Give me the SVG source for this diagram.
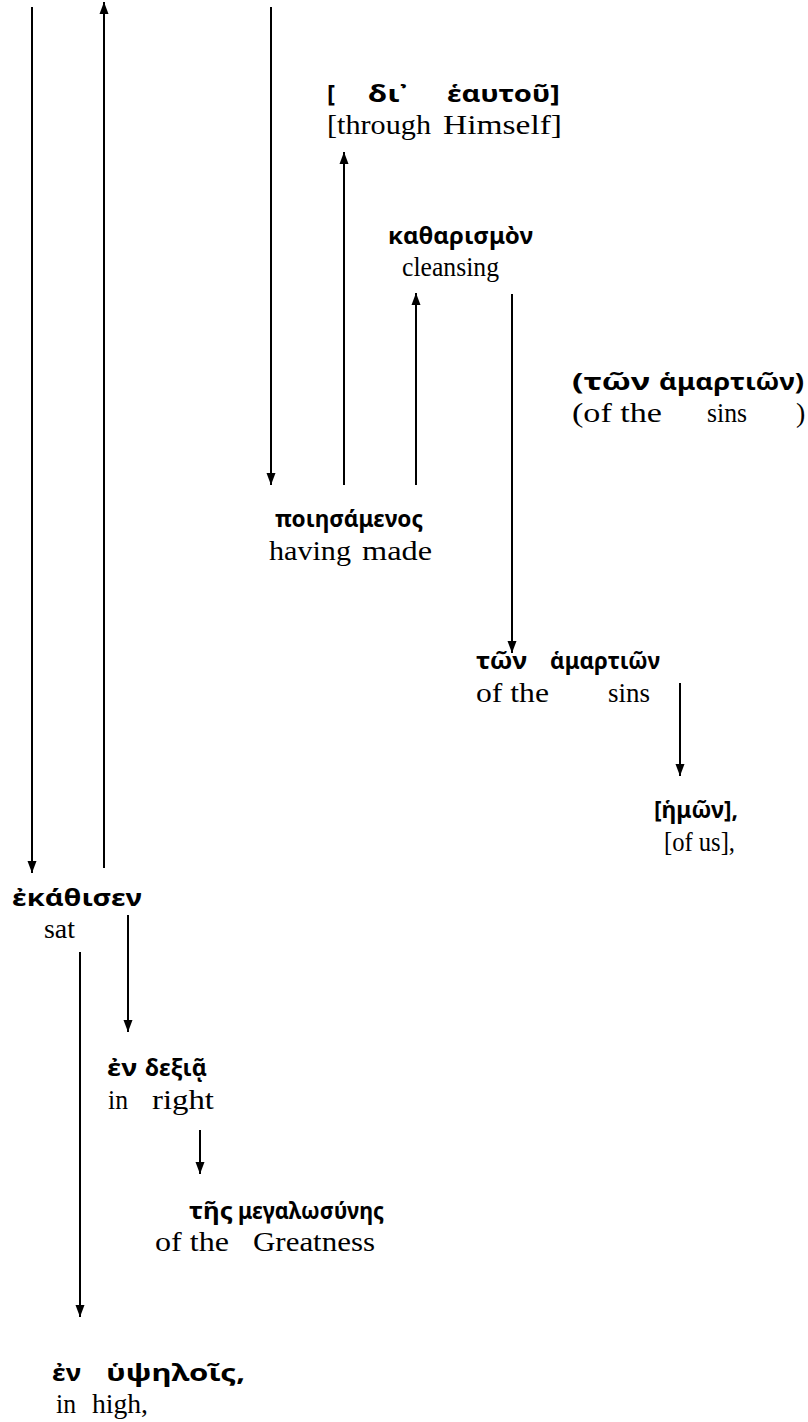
<svg xmlns="http://www.w3.org/2000/svg" width="808" height="1422" viewBox="0 0 808 1422">
<style>
.g{font-family:"Noto Sans","DejaVu Sans",sans-serif;font-weight:bold;font-size:24px;fill:#000}
.e{font-family:"Liberation Serif","Times New Roman",serif;font-size:28px;fill:#000}
.c line{stroke:#000;stroke-width:2}
</style>
<defs>
<marker id="a" viewBox="0 0 12 10" refX="12" refY="5" markerWidth="12" markerHeight="10" markerUnits="userSpaceOnUse" orient="auto">
<path d="M0,0.5 L12,5 L0,9.5 z" fill="#000"/>
</marker>
</defs>
<g class="c" id="connectors">
<line x1="32" y1="7" x2="32" y2="873" marker-end="url(#a)"/>
<line x1="104" y1="868" x2="104" y2="2" marker-end="url(#a)"/>
<line x1="271" y1="7" x2="271" y2="485" marker-end="url(#a)"/>
<line x1="344" y1="485" x2="344" y2="152" marker-end="url(#a)"/>
<line x1="416" y1="485" x2="416" y2="293" marker-end="url(#a)"/>
<line x1="512" y1="294" x2="512" y2="653" marker-end="url(#a)"/>
<line x1="680" y1="683" x2="680" y2="776" marker-end="url(#a)"/>
<line x1="128" y1="915" x2="128" y2="1032" marker-end="url(#a)"/>
<line x1="80" y1="952" x2="80" y2="1317" marker-end="url(#a)"/>
<line x1="200" y1="1130" x2="200" y2="1174" marker-end="url(#a)"/>
</g>
<g id="n1">
<text class="g" x="327" y="102">[</text>
<text class="g" x="368" y="102" textLength="40" lengthAdjust="spacingAndGlyphs">δι᾽</text>
<text class="g" x="447" y="102" textLength="113" lengthAdjust="spacingAndGlyphs">ἑαυτοῦ]</text>
<text class="e" x="327" y="134" textLength="104" lengthAdjust="spacingAndGlyphs">[through</text>
<text class="e" x="443" y="134" textLength="119" lengthAdjust="spacingAndGlyphs">Himself]</text>
</g>
<g id="n2">
<text class="g" x="388" y="244" textLength="145" lengthAdjust="spacingAndGlyphs">καθαρισμὸν</text>
<text class="e" x="402" y="276" textLength="97" lengthAdjust="spacingAndGlyphs">cleansing</text>
</g>
<g id="n3">
<text class="g" x="572" y="390" textLength="78" lengthAdjust="spacingAndGlyphs">(τῶν</text>
<text class="g" x="659" y="390" textLength="145" lengthAdjust="spacingAndGlyphs">ἁμαρτιῶν)</text>
<text class="e" x="572" y="422" textLength="90" lengthAdjust="spacingAndGlyphs">(of the</text>
<text class="e" x="707" y="422" textLength="40" lengthAdjust="spacingAndGlyphs">sins</text>
<text class="e" x="796" y="422">)</text>
</g>
<g id="n4">
<text class="g" x="275" y="527" textLength="148" lengthAdjust="spacingAndGlyphs">ποιησάμενος</text>
<text class="e" x="269" y="560" textLength="82" lengthAdjust="spacingAndGlyphs">having</text>
<text class="e" x="362" y="560" textLength="70" lengthAdjust="spacingAndGlyphs">made</text>
</g>
<g id="n5">
<text class="g" x="476" y="669" textLength="51" lengthAdjust="spacingAndGlyphs">τῶν</text>
<text class="g" x="550" y="669" textLength="110" lengthAdjust="spacingAndGlyphs">ἁμαρτιῶν</text>
<text class="e" x="476" y="702" textLength="73" lengthAdjust="spacingAndGlyphs">of the</text>
<text class="e" x="608" y="702" textLength="42" lengthAdjust="spacingAndGlyphs">sins</text>
</g>
<g id="n6">
<text class="g" x="654" y="818" textLength="84" lengthAdjust="spacingAndGlyphs">[ἡμῶν],</text>
<text class="e" x="664" y="851" textLength="71" lengthAdjust="spacingAndGlyphs">[of us],</text>
</g>
<g id="n7">
<text class="g" x="12" y="906" textLength="130" lengthAdjust="spacingAndGlyphs">ἐκάθισεν</text>
<text class="e" x="44" y="938" textLength="31" lengthAdjust="spacingAndGlyphs">sat</text>
</g>
<g id="n8">
<text class="g" x="107" y="1076" textLength="30" lengthAdjust="spacingAndGlyphs">ἐν</text>
<text class="g" x="145" y="1076" textLength="62" lengthAdjust="spacingAndGlyphs">δεξιᾷ</text>
<text class="e" x="108" y="1109" textLength="20" lengthAdjust="spacingAndGlyphs">in</text>
<text class="e" x="152" y="1109" textLength="62" lengthAdjust="spacingAndGlyphs">right</text>
</g>
<g id="n9">
<text class="g" x="189" y="1219" textLength="44" lengthAdjust="spacingAndGlyphs">τῆς</text>
<text class="g" x="238" y="1219" textLength="146" lengthAdjust="spacingAndGlyphs">μεγαλωσύνης</text>
<text class="e" x="155" y="1251" textLength="74" lengthAdjust="spacingAndGlyphs">of the</text>
<text class="e" x="253" y="1251" textLength="122" lengthAdjust="spacingAndGlyphs">Greatness</text>
</g>
<g id="n10">
<text class="g" x="52" y="1381" textLength="29" lengthAdjust="spacingAndGlyphs">ἐν</text>
<text class="g" x="106" y="1381" textLength="139" lengthAdjust="spacingAndGlyphs">ὑψηλοῖς,</text>
<text class="e" x="56" y="1413" textLength="20" lengthAdjust="spacingAndGlyphs">in</text>
<text class="e" x="92" y="1413" textLength="56" lengthAdjust="spacingAndGlyphs">high,</text>
</g>
</svg>
